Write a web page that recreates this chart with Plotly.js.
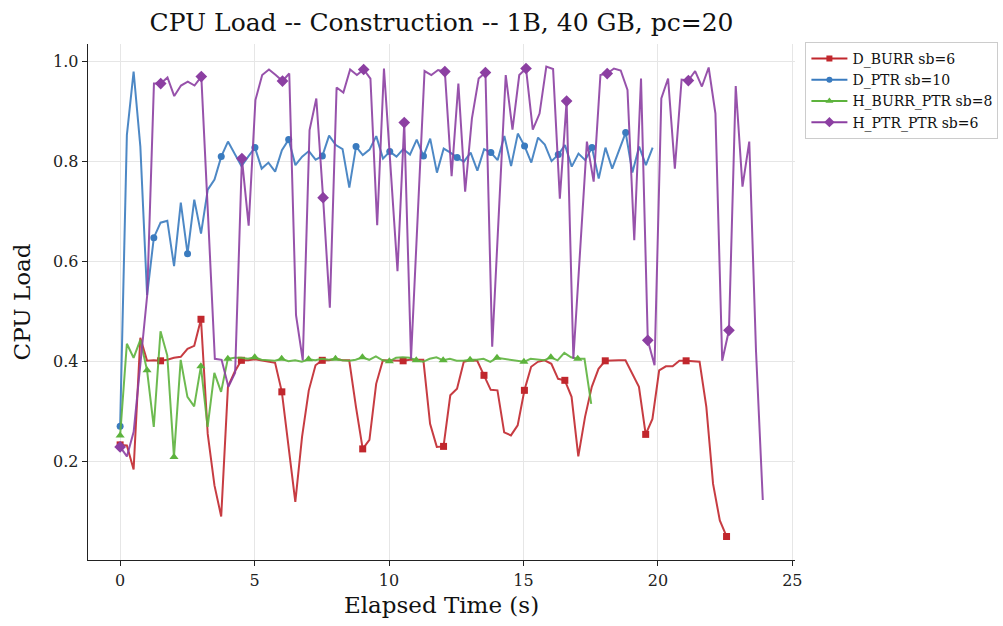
<!DOCTYPE html>
<html>
<head>
<meta charset="utf-8">
<script src="https://cdn.plot.ly/plotly-3.0.1.min.js"></script>
<style>html,body{margin:0;padding:0;background:#fff;}#chart{width:1003px;height:626px;}</style>
</head>
<body>
<div id="chart"></div>
<script>
// Sampling intervals (s) of each run
const dtDBurr = 0.2506;
const dtDPtr = 0.2507;
const dtHBurrPtr = 0.2503;
const dtHPtrPtr = 0.2516;

const seriesNames = ["D_BURR sb=6", "D_PTR sb=10", "H_BURR_PTR sb=8", "H_PTR_PTR sb=6"];

const dBurr = [0.233,0.232,0.184,0.447,0.401,0.402,0.401,0.403,0.407,0.409,
  0.425,0.431,0.484,0.255,0.152,0.09,0.349,0.379,0.402,0.402,
  0.404,0.402,0.40,0.397,0.339,0.229,0.119,0.249,0.342,0.392,
  0.402,0.402,0.405,0.402,0.402,0.309,0.225,0.243,0.355,0.402,
  0.402,0.402,0.401,0.403,0.403,0.403,0.275,0.229,0.23,0.332,
  0.345,0.399,0.402,0.401,0.372,0.343,0.342,0.258,0.252,0.272,
  0.342,0.389,0.399,0.402,0.395,0.365,0.362,0.329,0.21,0.289,
  0.349,0.385,0.401,0.402,0.402,0.402,0.375,0.349,0.254,0.285,
  0.382,0.39,0.39,0.401,0.401,0.40,0.399,0.309,0.155,0.082,
  0.05];

const dPtr = [0.27,0.852,0.979,0.829,0.532,0.647,0.677,0.681,0.59,0.717,
  0.615,0.723,0.655,0.743,0.763,0.809,0.839,0.815,0.79,0.809,
  0.827,0.785,0.797,0.779,0.822,0.843,0.792,0.809,0.82,0.803,
  0.81,0.851,0.832,0.824,0.747,0.829,0.812,0.823,0.85,0.805,
  0.819,0.809,0.824,0.813,0.843,0.81,0.845,0.777,0.825,0.817,
  0.807,0.799,0.817,0.781,0.824,0.817,0.802,0.85,0.79,0.855,
  0.83,0.797,0.847,0.833,0.80,0.813,0.832,0.789,0.815,0.802,
  0.827,0.765,0.827,0.785,0.821,0.857,0.777,0.829,0.792,0.827];

const hBurrPtr = [0.252,0.435,0.407,0.443,0.382,0.269,0.46,0.412,0.209,0.403,
  0.329,0.31,0.39,0.269,0.377,0.339,0.405,0.407,0.407,0.405,
  0.408,0.403,0.402,0.401,0.405,0.40,0.402,0.399,0.404,0.402,
  0.405,0.403,0.405,0.402,0.401,0.403,0.408,0.403,0.41,0.402,
  0.40,0.407,0.408,0.407,0.402,0.399,0.405,0.408,0.402,0.405,
  0.401,0.401,0.403,0.403,0.405,0.399,0.407,0.405,0.403,0.401,
  0.399,0.405,0.403,0.402,0.408,0.402,0.417,0.408,0.405,0.405,
  0.315];

const hPtrPtr = [0.229,0.21,0.259,0.40,0.532,0.955,0.955,0.967,0.93,0.951,
  0.959,0.951,0.969,0.69,0.405,0.403,0.349,0.377,0.805,0.671,
  0.922,0.972,0.983,0.972,0.96,0.975,0.492,0.402,0.862,0.925,
  0.727,0.507,0.947,0.937,0.983,0.972,0.983,0.965,0.672,0.985,
  0.783,0.58,0.877,0.405,0.693,0.98,0.972,0.982,0.979,0.77,
  0.955,0.739,0.885,0.965,0.977,0.429,0.701,0.972,0.863,0.972,
  0.985,0.863,0.895,0.989,0.984,0.725,0.92,0.405,0.622,0.839,
  0.759,0.972,0.975,0.985,0.981,0.942,0.642,0.965,0.442,0.392,
  0.925,0.965,0.785,0.963,0.961,0.98,0.949,0.987,0.895,0.401,
  0.462,0.95,0.749,0.839,0.42,0.123];

const colors = ["#c1272d", "#3a7bbf", "#5db33d", "#8c3fa2"];
const symbols = ["square", "circle", "triangle-up", "diamond"];
const markEvery = [6, 5, 4, 6];
const markerSizes = [7, 7, 8, 9];
const allY = [dBurr, dPtr, hBurrPtr, hPtrPtr];
const allDt = [dtDBurr, dtDPtr, dtHBurrPtr, dtHPtrPtr];

const traces = [];
allY.forEach((ys, i) => {
  const xs = ys.map((_, k) => k * allDt[i]);
  traces.push({
    x: xs, y: ys, type: "scatter", mode: "lines",
    line: {color: colors[i], width: 2},
    opacity: 0.9,
    showlegend: false, hoverinfo: "skip", legendgroup: "g" + i
  });
  const mx = [], my = [];
  xs.forEach((xv, k) => { if (k % markEvery[i] === 0) { mx.push(xv); my.push(ys[k]); } });
  traces.push({
    x: mx, y: my, type: "scatter", mode: "markers",
    marker: {color: colors[i], symbol: symbols[i], size: markerSizes[i]},
    name: seriesNames[i], legendgroup: "g" + i, showlegend: false
  });
  traces.push({
    x: [null], y: [null], type: "scatter", mode: "lines+markers",
    line: {color: colors[i], width: 2},
    marker: {color: colors[i], symbol: symbols[i], size: markerSizes[i] - 1},
    name: seriesNames[i], legendgroup: "g" + i, showlegend: true
  });
});

const font = "DejaVu Serif, serif";
const layout = {
  width: 1003, height: 626,
  margin: {l: 88, r: 208, t: 44, b: 66, pad: 0, autoexpand: false},
  paper_bgcolor: "#fff", plot_bgcolor: "#fff",
  font: {family: font, size: 16, color: "#222"},
  title: {text: "CPU Load -- Construction -- 1B, 40 GB, pc=20", font: {family: font, size: 25, color: "#111"}, x: 0.5, xref: "paper", y: 0.965, yanchor: "middle"},
  xaxis: {
    range: [-1.195, 25.1], tickvals: [0, 5, 10, 15, 20, 25], ticktext: ["0","5","10","15","20","25"],
    showgrid: true, gridcolor: "#e6e6e6", gridwidth: 1, zeroline: false,
    showline: true, linecolor: "#222", linewidth: 1.3, ticks: "outside", ticklen: 5, tickcolor: "#222",
    tickfont: {family: font, size: 16, color: "#222"},
    title: {text: "Elapsed Time (s)", font: {family: font, size: 23, color: "#111"}, standoff: 8}
  },
  yaxis: {
    range: [0.003, 1.034], tickvals: [0.2, 0.4, 0.6, 0.8, 1.0], ticktext: ["0.2","0.4","0.6","0.8","1.0"],
    showgrid: true, gridcolor: "#e6e6e6", gridwidth: 1, zeroline: false,
    showline: true, linecolor: "#222", linewidth: 1.3, ticks: "outside", ticklen: 5, tickcolor: "#222",
    tickfont: {family: font, size: 16, color: "#222"},
    title: {text: "CPU Load", font: {family: font, size: 23, color: "#111"}, standoff: 16}
  },
  legend: {
    xref: "container", x: 0.803, xanchor: "left",
    yref: "container", y: 0.933, yanchor: "top",
    bgcolor: "#fff", bordercolor: "#ccc", borderwidth: 1,
    font: {family: font, size: 14, color: "#111"},
    tracegroupgap: 0, itemwidth: 36
  },
  showlegend: true
};

Plotly.newPlot("chart", traces, layout, {displayModeBar: false, staticPlot: true});
</script>
</body>
</html>
